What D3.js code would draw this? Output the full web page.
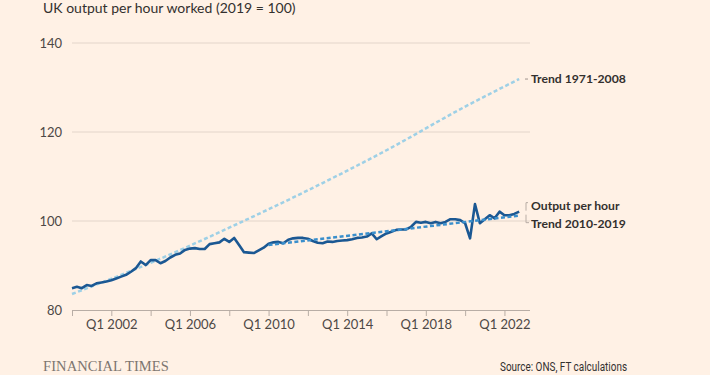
<!DOCTYPE html>
<html>
<head>
<meta charset="utf-8">
<script src="https://cdn.jsdelivr.net/npm/d3@7"></script>
<style>
  html, body { margin: 0; padding: 0; background: #fff1e5; }
  svg { display: block; font-family: Lato, "Open Sans", sans-serif; }
  .title { font-size: 14px; fill: #33302e; }
  .tick-label { font-size: 13px; fill: #4d4845; }
  .series-label { font-size: 12.2px; font-weight: 700; fill: #33302e; }
  .source { font-size: 12px; fill: #33302e; font-family: Roboto, "Open Sans", sans-serif; }
  .brand { font-size: 14.5px; fill: #7d7670; font-family: "Liberation Serif", "DejaVu Serif", serif; letter-spacing: 0.1px; }
</style>
</head>
<body>
<svg id="chart" width="710" height="375"></svg>
<script>
  // quarterly, Q1 2000 .. Q4 2022 (2019 = 100)
  const firstYear = 2000;
  const outputPerHour = [
    84.9, 85.2, 84.9, 85.6,   // 2000
    85.4, 86.0, 86.2, 86.4,   // 2001
    86.7, 87.1, 87.5, 87.9,   // 2002
    88.6, 89.4, 90.9, 90.1,   // 2003
    91.2, 91.2, 90.5, 91.0,   // 2004
    91.8, 92.4, 92.7, 93.5,   // 2005
    93.8, 93.9, 93.7, 93.7,   // 2006
    94.8, 95.0, 95.2, 96.0,   // 2007
    95.3, 96.2, 94.6, 93.0,   // 2008
    92.9, 92.8, 93.4, 94.0,   // 2009
    94.9, 95.2, 95.3, 95.0,   // 2010
    95.8, 96.1, 96.2, 96.2,   // 2011
    96.0, 95.5, 95.1, 95.0,   // 2012
    95.4, 95.3, 95.5, 95.6,   // 2013
    95.7, 95.9, 96.2, 96.3,   // 2014
    96.5, 97.2, 95.9, 96.6,   // 2015
    97.2, 97.6, 98.0, 98.1,   // 2016
    98.1, 98.7, 99.8, 99.6,   // 2017
    99.8, 99.5, 99.8, 99.5,   // 2018
    99.8, 100.4, 100.4, 100.2, // 2019
    99.5, 96.1, 103.8, 99.5,  // 2020
    100.4, 101.3, 100.6, 102.1, // 2021
    101.3, 101.3, 101.6, 102.1  // 2022
  ];

  const trendOldYears = [2000, 2004, 2008, 2012, 2016, 2020, 2022.75];
  const trendOldValues = [83.6, 90.6, 98.5, 106.9, 115.9, 125.7, 131.9];

  const trendNewYears = [2010, 2022.75];
  const trendNewValues = [94.6, 101.2];

  const yTicks = [80, 100, 120, 140];
  const xTicks = [2000, 2002, 2004, 2006, 2008, 2010, 2012, 2014, 2016, 2018, 2020, 2022];
  const xLabelYears = [2002, 2006, 2010, 2014, 2018, 2022];

  const svg = d3.select("#chart");
  const plotLeft = 72, plotRight = 530, plotTop = 43, plotBottom = 310;

  const x = d3.scaleLinear().domain([2000, 2023.3]).range([plotLeft, plotRight]);
  const y = d3.scaleLinear().domain([80, 140]).range([plotBottom, plotTop]);

  const outputData = outputPerHour.map((v, i) => ({ year: firstYear + i / 4, value: v }));
  const trendOld = trendOldYears.map((yr, i) => ({ year: yr, value: trendOldValues[i] }));
  const trendNew = trendNewYears.map((yr, i) => ({ year: yr, value: trendNewValues[i] }));

  svg.append("text")
    .attr("class", "title")
    .attr("x", 43)
    .attr("y", 13)
    .text("UK output per hour worked (2019 = 100)");

  // gridlines
  svg.append("g")
    .selectAll("line")
    .data(yTicks.filter(d => d > 80))
    .join("line")
    .attr("x1", plotLeft)
    .attr("x2", plotRight)
    .attr("y1", d => y(d))
    .attr("y2", d => y(d))
    .attr("stroke", "#e3d5ca")
    .attr("stroke-width", 1);

  svg.append("g")
    .selectAll("text")
    .data(yTicks)
    .join("text")
    .attr("class", "tick-label")
    .attr("x", 62)
    .attr("y", d => y(d))
    .attr("dy", "0.35em")
    .attr("text-anchor", "end")
    .text(d => d);

  // x axis
  const xAxis = d3.axisBottom(x)
    .tickValues(xTicks)
    .tickSize(6)
    .tickFormat(d => xLabelYears.includes(d) ? "Q1 " + d : "");

  const gx = svg.append("g")
    .attr("transform", `translate(0,${plotBottom})`)
    .call(xAxis);
  gx.select(".domain").attr("stroke", "#b8ada5").attr("d", `M${plotLeft},0.5H${plotRight}`);
  gx.selectAll(".tick line").attr("stroke", "#b8ada5");
  gx.selectAll(".tick text")
    .attr("class", "tick-label")
    .attr("y", 10)
    .attr("dy", "0.71em")
    .style("font-family", "Lato, 'Open Sans', sans-serif");

  const line = d3.line().x(d => x(d.year)).y(d => y(d.value));
  const smooth = d3.line().x(d => x(d.year)).y(d => y(d.value)).curve(d3.curveMonotoneX);

  svg.append("path")
    .datum(trendOld)
    .attr("d", smooth)
    .attr("fill", "none")
    .attr("stroke", "#9ed0e6")
    .attr("stroke-width", 2.5)
    .attr("stroke-dasharray", "4,2.5");

  svg.append("path")
    .datum(outputData)
    .attr("d", line)
    .attr("fill", "none")
    .attr("stroke", "#1b5893")
    .attr("stroke-width", 2.6)
    .attr("stroke-linejoin", "round");

  svg.append("path")
    .datum(trendNew)
    .attr("d", line)
    .attr("fill", "none")
    .attr("stroke", "#3a8fcc")
    .attr("stroke-width", 2.5)
    .attr("stroke-dasharray", "4,2.5");

  // labels at line ends
  const lastOld = trendOld[trendOld.length - 1];
  const lastOut = outputData[outputData.length - 1];
  const lastNew = trendNew[trendNew.length - 1];
  const lx = 531;

  svg.append("line")
    .attr("x1", 525).attr("x2", 528)
    .attr("y1", y(lastOld.value)).attr("y2", y(lastOld.value))
    .attr("stroke", "#9e958e");

  svg.append("path")
    .attr("d", `M528,${y(lastOut.value) - 9}H526V${y(lastOut.value) - 1}`)
    .attr("fill", "none")
    .attr("stroke", "#b8ada5");

  svg.append("path")
    .attr("d", `M526,${y(lastNew.value) - 1}V${y(lastNew.value) + 7}H529`)
    .attr("fill", "none")
    .attr("stroke", "#b8ada5");

  const labels = [
    { text: "Trend 1971-2008", y: y(lastOld.value) },
    { text: "Output per hour", y: y(lastOut.value) - 6 },
    { text: "Trend 2010-2019", y: y(lastNew.value) + 8.5 }
  ];

  svg.append("g")
    .selectAll("text")
    .data(labels)
    .join("text")
    .attr("class", "series-label")
    .attr("x", lx)
    .attr("y", d => d.y)
    .attr("dy", "0.35em")
    .text(d => d.text);

  svg.append("text")
    .attr("class", "brand")
    .attr("x", 43)
    .attr("y", 371)
    .text("FINANCIAL TIMES");

  svg.append("text")
    .attr("class", "source")
    .attr("x", 627)
    .attr("y", 371)
    .attr("text-anchor", "end")
    .attr("textLength", 127)
    .attr("lengthAdjust", "spacingAndGlyphs")
    .text("Source: ONS, FT calculations");
</script>
</body>
</html>
